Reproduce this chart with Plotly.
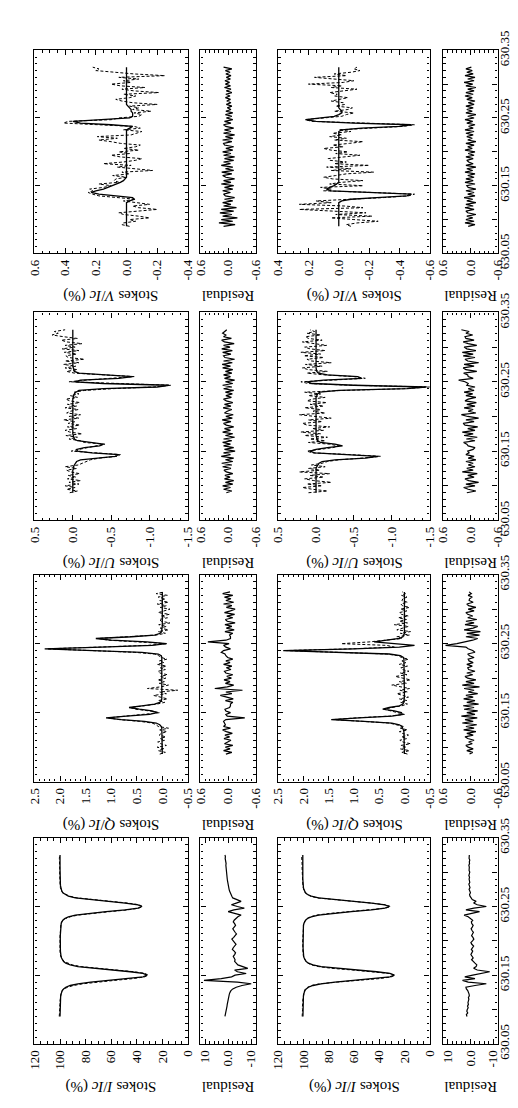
import plotly.graph_objects as go

# ---------------- data (wavelength grid, nm) ----------------
WL = [
    630.0900, 630.0925, 630.0950, 630.0975, 630.1000, 630.1025, 630.1050, 630.1075, 630.1100, 630.1125,
    630.1150, 630.1175, 630.1200, 630.1225, 630.1250, 630.1275, 630.1300, 630.1325, 630.1350, 630.1375,
    630.1400, 630.1425, 630.1450, 630.1475, 630.1500, 630.1525, 630.1550, 630.1575, 630.1600, 630.1625,
    630.1650, 630.1675, 630.1700, 630.1725, 630.1750, 630.1775, 630.1800, 630.1825, 630.1850, 630.1875,
    630.1900, 630.1925, 630.1950, 630.1975, 630.2000, 630.2025, 630.2050, 630.2075, 630.2100, 630.2125,
    630.2150, 630.2175, 630.2200, 630.2225, 630.2250, 630.2275, 630.2300, 630.2325, 630.2350, 630.2375,
    630.2400, 630.2425, 630.2450, 630.2475, 630.2500, 630.2525, 630.2550, 630.2575, 630.2600, 630.2625,
    630.2650, 630.2675, 630.2700, 630.2725, 630.2750, 630.2775, 630.2800, 630.2825, 630.2850, 630.2875,
    630.2900, 630.2925, 630.2950, 630.2975, 630.3000, 630.3025, 630.3050, 630.3075, 630.3100, 630.3125,
    630.3150, 630.3175, 630.3200, 630.3225, 630.3250,
]

# ---- Stokes I (%) ----
I_obs1 = [
    100.6, 100.4, 100.5, 100.3, 100.4, 100.2, 100.3, 100.1, 100.2, 100.0,
    100.1, 99.9, 99.8, 99.6, 99.0, 98.5, 97.0, 94.0, 89.5, 82.0,
    71.0, 57.0, 43.0, 34.0, 31.0, 33.5, 42.0, 57.0, 72.0, 83.5,
    90.5, 94.5, 96.8, 98.0, 98.9, 99.4, 99.8, 100.0, 100.1, 100.0,
    100.1, 100.0, 100.2, 100.1, 100.0, 100.1, 100.0, 99.9, 100.0, 99.9,
    99.9, 99.8, 99.8, 99.7, 99.3, 98.8, 97.6, 95.6, 92.0, 86.0,
    75.5, 61.0, 47.5, 38.5, 35.5, 38.0, 47.0, 61.5, 75.5, 86.5,
    92.5, 96.0, 97.9, 98.8, 99.4, 99.7, 99.9, 100.0, 100.1, 100.0,
    100.1, 100.2, 100.1, 100.2, 100.3, 100.2, 100.3, 100.2, 100.3, 100.4,
    100.3, 100.4, 100.5, 100.4, 100.5,
]
I_fit1 = [
    100.0, 100.0, 99.9, 99.9, 99.9, 99.8, 99.8, 99.8, 99.7, 99.7,
    99.7, 99.6, 99.5, 99.2, 98.8, 98.2, 97.2, 95.5, 92.0, 86.0,
    76.0, 61.0, 45.0, 35.0, 32.0, 35.0, 45.0, 61.0, 76.0, 86.0,
    92.0, 95.5, 97.2, 98.2, 98.8, 99.2, 99.5, 99.6, 99.7, 99.7,
    99.8, 99.8, 99.8, 99.8, 99.8, 99.8, 99.8, 99.8, 99.7, 99.7,
    99.7, 99.6, 99.6, 99.4, 99.1, 98.6, 97.8, 96.3, 93.5, 88.0,
    78.0, 64.0, 49.0, 39.0, 36.0, 39.0, 49.0, 64.0, 78.0, 88.0,
    93.5, 96.3, 97.8, 98.6, 99.1, 99.4, 99.6, 99.7, 99.8, 99.8,
    99.9, 99.9, 99.9, 99.9, 100.0, 100.0, 100.0, 100.0, 100.0, 100.0,
    100.0, 100.0, 100.0, 100.0, 100.0,
]
I_res1 = [
    1.4, 1.2, 1.0, 0.8, 0.7, 0.6, 0.5, 0.4, 0.3, 0.2,
    0.1, 0.0, -0.3, -0.5, -0.8, -1.2, -2.0, -3.5, -6.0, -10.0,
    -4.0, 10.5, 3.0, -1.5, -3.0, -7.8, -4.0, -2.8, -8.5, -6.0,
    -4.2, -3.5, -2.8, -3.0, -2.5, -2.2, -2.8, -3.2, -2.6, -1.8,
    -2.2, -3.0, -3.4, -2.8, -2.0, -1.6, -2.4, -3.0, -3.6, -3.0,
    -2.4, -2.0, -2.6, -3.2, -2.8, -2.2, -2.6, -3.4, -4.2, -5.6,
    -3.0, 0.0, -2.5, -7.0, -4.0, -1.4, -3.5, -5.6, -3.8, -2.0,
    -1.6, -1.2, -0.8, -0.6, -0.4, -0.2, 0.0, 0.1, 0.2, 0.3,
    0.4, 0.5, 0.4, 0.6, 0.7, 0.6, 0.8, 0.9, 1.0, 0.9,
    1.1, 1.2, 1.3, 1.2, 1.4,
]
I_obs2 = [
    101.0, 100.8, 101.1, 100.9, 100.7, 100.9, 100.6, 100.8, 100.5, 100.6,
    100.4, 100.3, 100.1, 99.9, 99.6, 99.2, 98.4, 96.6, 93.5, 87.0,
    73.0, 56.0, 40.0, 30.5, 27.5, 32.0, 44.0, 61.0, 77.5, 88.0,
    93.5, 96.5, 98.0, 99.0, 99.6, 100.0, 100.2, 100.4, 100.3, 100.5,
    100.4, 100.6, 100.5, 100.4, 100.6, 100.5, 100.4, 100.6, 100.5, 100.3,
    100.4, 100.3, 100.2, 100.1, 99.8, 99.3, 98.5, 97.2, 94.5, 89.5,
    79.0, 63.5, 46.5, 35.0, 31.0, 35.0, 46.5, 63.0, 78.5, 89.0,
    94.5, 97.2, 98.6, 99.4, 99.9, 100.2, 100.4, 100.5, 100.6, 100.7,
    100.6, 100.8, 100.7, 100.9, 100.8, 101.0, 100.9, 101.1, 101.0, 101.2,
    101.1, 101.3, 101.2, 101.4, 101.3,
]
I_fit2 = [
    100.4, 100.4, 100.4, 100.4, 100.4, 100.3, 100.3, 100.3, 100.3, 100.2,
    100.2, 100.1, 100.0, 99.8, 99.4, 98.8, 97.8, 96.0, 92.5, 86.0,
    75.0, 59.0, 42.0, 31.5, 28.0, 31.5, 42.0, 59.0, 75.0, 86.0,
    92.5, 96.0, 97.8, 98.8, 99.4, 99.8, 100.0, 100.1, 100.2, 100.2,
    100.3, 100.3, 100.3, 100.3, 100.3, 100.3, 100.3, 100.3, 100.2, 100.2,
    100.2, 100.2, 100.2, 100.0, 99.7, 99.2, 98.3, 96.8, 93.8, 88.0,
    77.0, 62.0, 46.0, 35.5, 32.0, 35.5, 46.0, 62.0, 77.0, 88.0,
    93.8, 96.8, 98.3, 99.2, 99.7, 100.0, 100.2, 100.3, 100.4, 100.4,
    100.5, 100.5, 100.5, 100.5, 100.5, 100.5, 100.5, 100.5, 100.5, 100.5,
    100.5, 100.5, 100.5, 100.5, 100.5,
]
I_res2 = [
    1.5, 1.8, 1.2, 1.6, 1.4, 1.0, 1.3, 0.9, 1.1, 0.8,
    0.7, 0.9, 0.5, 0.6, 0.8, 1.2, 1.8, 2.0, -2.0, -7.0,
    1.0, 3.5, -2.0, 2.5, -1.0, -5.0, -8.5, -3.0, -1.4, -2.5,
    -2.8, -2.0, -1.0, -0.5, -1.2, -0.8, -0.2, -0.6, -1.0, -0.4,
    -0.8, -1.4, -0.6, -0.2, -0.9, -1.5, -1.1, -0.5, -0.9, -1.3,
    -0.7, -0.3, -0.8, -1.2, -0.6, -0.4, -1.0, -0.2, 1.0, 2.8,
    -1.0, -4.0, 2.0, -1.5, -7.0, -3.0, -1.4, -2.5, -0.8, -0.2,
    0.2, 0.4, 0.0, 0.3, 0.6, 0.2, 0.4, 0.7, 0.3, 0.5,
    0.6, 0.4, 0.7, 0.5, 0.3, 0.6, 0.4, 0.5, 0.7, 0.4,
    0.5, 0.3, 0.6, 0.4, 0.5,
]

# ---- Stokes Q (%) ----
Q_obs1 = [
    0.05, -0.06, 0.08, -0.04, 0.10, -0.08, 0.03, 0.09, -0.05, 0.04,
    -0.07, 0.06, 0.02, -0.09, 0.05, -0.12, 0.08, 0.12, 0.20, 0.45,
    0.85, 1.05, 0.72, 0.30, 0.05, 0.25, 0.52, 0.62, 0.35, 0.10,
    -0.05, 0.08, -0.10, 0.04, 0.17, -0.08, 0.05, -0.30, 0.29, 0.02,
    -0.12, 0.06, -0.04, 0.09, -0.07, 0.03, -0.10, 0.05, 0.08, -0.06,
    0.04, -0.08, 0.10, -0.03, 0.06, -0.09, 0.02, 0.07, 0.15, 0.55,
    1.60, 2.25, 1.25, 0.30, -0.10, 0.40, 1.05, 1.25, 0.55, 0.12,
    -0.06, 0.08, -0.12, 0.04, -0.08, 0.07, -0.15, 0.02, 0.06, -0.10,
    0.03, -0.14, 0.08, -0.05, -0.15, 0.04, -0.08, 0.10, -0.12, 0.05,
    -0.06, 0.08, -0.10, 0.12, -0.04,
]
Q_fit1 = [
    0.00, 0.00, 0.01, 0.00, 0.00, 0.01, 0.00, 0.00, 0.01, 0.00,
    0.00, 0.01, 0.01, 0.00, 0.01, 0.01, 0.02, 0.05, 0.12, 0.35,
    0.80, 1.10, 0.70, 0.25, 0.10, 0.20, 0.45, 0.65, 0.40, 0.15,
    0.05, 0.02, 0.01, 0.01, 0.00, 0.00, 0.00, 0.01, 0.00, 0.00,
    0.00, 0.00, 0.00, 0.00, 0.00, 0.00, 0.00, 0.00, 0.00, 0.00,
    0.00, 0.00, 0.00, 0.01, 0.01, 0.01, 0.01, 0.02, 0.08, 0.40,
    1.50, 2.30, 1.20, 0.20, -0.08, 0.30, 1.00, 1.30, 0.60, 0.15,
    0.04, 0.01, 0.01, 0.00, 0.00, 0.00, 0.00, 0.00, 0.00, 0.00,
    0.00, 0.00, 0.00, 0.00, 0.00, 0.00, 0.00, 0.00, 0.00, 0.00,
    0.00, 0.00, 0.00, 0.00, 0.00,
]
Q_res1 = [
    0.05, -0.08, 0.10, -0.04, 0.06, -0.10, 0.08, 0.02, -0.06, 0.09,
    -0.03, 0.07, -0.09, 0.04, 0.12, -0.05, 0.10, 0.06, 0.08, 0.10,
    0.05, -0.36, 0.02, 0.05, -0.05, 0.05, 0.07, -0.03, -0.05, -0.05,
    -0.10, 0.06, -0.11, 0.03, 0.17, -0.08, 0.05, -0.31, 0.29, 0.02,
    -0.12, 0.06, -0.04, 0.09, -0.07, 0.03, -0.10, 0.05, 0.08, -0.06,
    0.04, -0.08, 0.10, -0.04, 0.05, -0.10, 0.01, 0.05, 0.07, 0.15,
    0.10, -0.05, 0.05, 0.10, -0.02, 0.44, 0.05, -0.05, -0.05, -0.03,
    -0.10, 0.07, -0.13, 0.04, -0.08, 0.07, -0.15, 0.02, 0.06, -0.10,
    0.03, -0.14, 0.08, -0.05, -0.15, 0.04, -0.08, 0.10, -0.12, 0.05,
    -0.06, 0.08, -0.10, 0.12, -0.04,
]
Q_obs2 = [
    -0.06, 0.05, -0.10, 0.08, -0.04, 0.07, -0.12, 0.03, 0.09, -0.05,
    0.06, -0.08, 0.04, 0.10, -0.06, 0.08, 0.02, 0.15, 0.30, 0.85,
    1.40, 0.95, 0.30, 0.00, 0.12, 0.28, 0.40, 0.25, 0.05, -0.06,
    0.08, -0.05, 0.10, -0.08, 0.04, 0.15, -0.06, 0.09, -0.10, 0.05,
    0.25, -0.04, 0.10, -0.12, 0.06, 0.18, -0.05, 0.08, -0.09, 0.04,
    0.07, -0.06, 0.10, -0.03, 0.05, -0.08, 0.06, 0.12, 0.35, 1.50,
    2.35, 1.05, 0.20, 0.35, 1.25, 0.70, 0.30, 0.05, 0.15, -0.10,
    0.08, -0.12, 0.15, 0.05, -0.08, 0.20, -0.06, 0.10, -0.04, 0.12,
    -0.08, 0.06, 0.10, -0.05, 0.08, -0.10, 0.04, 0.07, -0.06, 0.05,
    0.03, -0.05, 0.06, -0.02, 0.04,
]
Q_fit2 = [
    0.00, 0.00, 0.00, 0.01, 0.00, 0.00, 0.01, 0.00, 0.00, 0.01,
    0.00, 0.01, 0.01, 0.01, 0.02, 0.03, 0.05, 0.10, 0.25, 0.80,
    1.45, 0.90, 0.25, 0.04, 0.06, 0.20, 0.43, 0.30, 0.10, 0.03,
    0.01, 0.01, 0.00, 0.00, 0.00, 0.00, 0.00, 0.00, 0.00, 0.00,
    0.00, 0.00, 0.00, 0.00, 0.00, 0.00, 0.00, 0.00, 0.00, 0.00,
    0.00, 0.00, 0.00, 0.00, 0.01, 0.01, 0.02, 0.08, 0.30, 1.60,
    2.40, 1.00, 0.10, -0.20, 0.20, 0.60, 0.35, 0.10, 0.03, 0.01,
    0.00, 0.00, 0.00, 0.00, 0.00, 0.00, 0.00, 0.00, 0.00, 0.00,
    0.00, 0.00, 0.00, 0.00, 0.00, 0.00, 0.00, 0.00, 0.00, 0.00,
    0.00, 0.00, 0.00, 0.00, 0.00,
]
Q_res2 = [
    0.02, -0.05, 0.08, -0.06, 0.05, 0.10, -0.04, 0.04, -0.08, 0.06,
    0.12, -0.06, 0.08, -0.12, 0.15, -0.08, 0.10, -0.14, 0.18, -0.06,
    0.12, -0.15, 0.20, -0.10, 0.08, -0.16, 0.14, -0.08, 0.16, -0.18,
    0.08, -0.10, 0.15, -0.06, 0.10, -0.16, 0.05, -0.08, 0.14, -0.20,
    0.18, -0.08, 0.10, -0.12, 0.06, 0.12, -0.05, 0.08, -0.10, 0.04,
    0.06, -0.04, 0.08, -0.06, 0.03, 0.05, -0.08, 0.02, 0.06, -0.10,
    -0.05, 0.05, 0.10, 0.55, 0.30, 0.10, -0.05, -0.16, 0.10, -0.20,
    0.08, -0.22, 0.14, -0.06, -0.16, 0.12, -0.08, 0.10, -0.14, 0.06,
    -0.05, 0.06, 0.10, -0.08, 0.05, -0.12, 0.04, 0.08, -0.06, 0.03,
    0.02, -0.04, 0.05, -0.02, 0.03,
]

# ---- Stokes U (%) ----
U_obs1 = [
    0.04, -0.06, 0.08, -0.03, 0.10, -0.08, 0.05, -0.10, 0.07, -0.04,
    0.06, -0.09, 0.03, 0.08, -0.05, 0.10, -0.07, -0.12, -0.18, -0.23,
    -0.35, -0.58, -0.62, -0.30, 0.02, -0.08, -0.22, -0.30, -0.42, -0.15,
    -0.10, 0.05, -0.06, 0.09, -0.12, 0.04, 0.10, -0.05, 0.07, -0.09,
    0.06, -0.03, 0.12, -0.08, 0.05, -0.10, 0.08, 0.03, -0.07, 0.10,
    -0.05, 0.07, -0.09, 0.04, 0.09, -0.06, 0.03, -0.08, -0.02, -0.15,
    -0.50, -1.05, -1.28, -0.50, 0.05, -0.18, -0.55, -0.80, -0.40, -0.02,
    0.08, -0.06, 0.10, -0.04, 0.12, -0.08, 0.10, -0.15, 0.06, 0.09,
    -0.05, 0.11, -0.08, 0.14, -0.03, 0.10, -0.12, 0.08, 0.15, -0.06,
    0.12, 0.27, 0.19, 0.24, 0.10,
]
U_fit1 = [
    0.00, 0.00, 0.00, 0.00, 0.00, 0.00, 0.00, 0.00, 0.00, 0.00,
    0.00, 0.00, 0.00, 0.00, -0.01, -0.01, -0.02, -0.03, -0.05, -0.10,
    -0.30, -0.55, -0.60, -0.25, -0.06, -0.05, -0.15, -0.35, -0.40, -0.20,
    -0.06, -0.02, -0.01, 0.00, 0.00, 0.00, 0.00, 0.00, 0.00, 0.00,
    0.00, 0.00, 0.00, 0.00, 0.00, 0.00, 0.00, 0.00, 0.00, 0.00,
    0.00, 0.00, 0.00, 0.00, 0.00, -0.01, -0.01, -0.02, -0.04, -0.08,
    -0.40, -1.10, -1.25, -0.40, -0.02, -0.10, -0.60, -0.78, -0.35, -0.08,
    -0.02, -0.01, 0.00, 0.00, 0.00, 0.00, 0.00, 0.00, 0.00, 0.00,
    0.00, 0.00, 0.00, 0.00, 0.00, 0.00, 0.00, 0.00, 0.00, 0.00,
    0.00, 0.00, 0.00, 0.00, 0.00,
]
U_res1 = [
    0.04, -0.08, 0.10, -0.05, 0.12, -0.10, 0.06, -0.12, 0.08, -0.04,
    0.07, -0.10, 0.04, 0.09, -0.06, 0.12, -0.08, 0.14, -0.10, 0.06,
    -0.12, 0.15, -0.05, 0.10, -0.15, 0.08, -0.12, 0.10, -0.05, 0.12,
    -0.08, 0.10, -0.14, 0.06, -0.10, 0.12, -0.05, 0.08, -0.12, 0.04,
    0.10, -0.06, 0.13, -0.09, 0.05, -0.11, 0.08, 0.02, -0.08, 0.11,
    -0.06, 0.08, -0.10, 0.04, 0.10, -0.07, 0.05, -0.09, 0.06, -0.12,
    0.10, -0.08, 0.12, -0.10, 0.06, -0.14, 0.08, -0.05, 0.10, -0.08,
    0.06, -0.10, 0.12, -0.05, 0.13, -0.09, 0.10, -0.14, 0.07, 0.10,
    -0.06, 0.12, -0.09, 0.14, -0.04, 0.10, -0.13, 0.08, 0.14, -0.07,
    0.10, 0.05, 0.12, 0.08, 0.03,
]
U_obs2 = [
    0.10, -0.15, 0.05, 0.18, -0.08, 0.12, -0.20, 0.03, 0.15, -0.10,
    0.08, -0.18, 0.22, -0.05, 0.10, -0.12, 0.06, -0.08, -0.15, -0.30,
    -0.62, -0.85, -0.45, 0.05, 0.12, -0.05, -0.22, -0.30, -0.18, 0.10,
    -0.12, 0.08, -0.15, 0.15, -0.06, 0.20, -0.10, 0.05, -0.18, 0.12,
    0.18, -0.08, 0.10, -0.20, 0.06, 0.22, -0.12, 0.04, -0.06, 0.15,
    -0.10, 0.08, -0.14, 0.12, 0.05, -0.12, 0.10, -0.06, 0.15, -0.35,
    -1.15, -1.50, -0.45, 0.10, 0.20, -0.18, -0.65, -0.50, -0.10, 0.12,
    -0.15, 0.10, 0.18, -0.08, 0.14, -0.20, 0.06, 0.12, -0.10, 0.16,
    -0.06, 0.20, -0.12, 0.08, 0.15, -0.14, 0.05, 0.18, -0.08, 0.10,
    0.14, -0.06, 0.12, 0.02, 0.08,
]
U_fit2 = [
    0.00, 0.00, 0.00, 0.00, 0.00, 0.00, 0.00, 0.00, 0.00, 0.00,
    0.00, 0.00, 0.00, 0.00, 0.00, -0.01, -0.02, -0.04, -0.08, -0.25,
    -0.65, -0.82, -0.40, 0.02, 0.08, 0.00, -0.15, -0.35, -0.25, -0.06,
    -0.02, -0.01, 0.00, 0.00, 0.00, 0.00, 0.00, 0.00, 0.00, 0.00,
    0.00, 0.00, 0.00, 0.00, 0.00, 0.00, 0.00, 0.00, 0.00, 0.00,
    0.00, 0.00, 0.00, 0.00, 0.00, 0.00, -0.01, -0.02, -0.05, -0.30,
    -1.20, -1.45, -0.50, 0.05, 0.12, -0.10, -0.60, -0.55, -0.15, -0.03,
    -0.01, 0.00, 0.00, 0.00, 0.00, 0.00, 0.00, 0.00, 0.00, 0.00,
    0.00, 0.00, 0.00, 0.00, 0.00, 0.00, 0.00, 0.00, 0.00, 0.00,
    0.00, 0.00, 0.00, 0.00, 0.00,
]
U_res2 = [
    0.08, -0.12, 0.05, 0.15, -0.10, 0.10, -0.18, 0.04, 0.12, -0.08,
    0.06, -0.15, 0.18, -0.06, 0.08, -0.10, 0.05, -0.06, 0.10, -0.12,
    0.05, -0.08, 0.10, 0.03, 0.06, -0.06, -0.10, 0.05, 0.08, 0.15,
    -0.10, 0.09, -0.15, 0.14, -0.06, 0.18, -0.10, 0.06, -0.16, 0.12,
    0.16, -0.08, 0.10, -0.18, 0.06, 0.20, -0.12, 0.05, -0.06, 0.14,
    -0.10, 0.08, -0.13, 0.12, 0.05, -0.12, 0.10, -0.05, 0.14, -0.08,
    0.05, -0.10, 0.08, 0.05, 0.12, 0.26, -0.06, 0.05, 0.06, 0.15,
    -0.14, 0.10, 0.16, -0.08, 0.14, -0.18, 0.06, 0.12, -0.10, 0.16,
    -0.06, 0.18, -0.12, 0.08, 0.14, -0.14, 0.05, 0.16, -0.08, 0.10,
    0.12, -0.05, 0.10, 0.03, 0.20,
]

# ---- Stokes V (%) ----
V_obs1 = [
    -0.02, 0.03, 0.02, -0.06, -0.02, -0.15, -0.08, 0.02, 0.05, -0.10,
    -0.20, -0.08, -0.04, -0.15, -0.05, 0.02, -0.06, 0.05, 0.18, 0.22,
    0.25, 0.22, 0.24, 0.15, 0.10, 0.18, 0.05, 0.08, 0.07, 0.00,
    0.09, -0.02, 0.03, -0.17, -0.05, 0.06, -0.03, 0.15, 0.02, -0.06,
    -0.10, 0.04, 0.10, -0.02, 0.05, -0.08, 0.02, -0.06, -0.09, 0.04,
    0.10, 0.18, 0.06, 0.19, -0.03, -0.06, -0.10, 0.02, -0.09, -0.05,
    0.15, 0.41, 0.38, 0.10, 0.05, -0.08, -0.10, -0.05, -0.16, -0.04,
    -0.08, -0.02, -0.20, -0.04, 0.03, 0.07, -0.02, -0.06, 0.02, -0.21,
    -0.05, 0.03, -0.12, 0.04, 0.10, -0.03, 0.02, -0.08, 0.05, -0.25,
    -0.05, 0.06, 0.20, 0.18, 0.22,
]
V_fit1 = [
    0.00, 0.00, 0.00, 0.00, 0.00, 0.00, 0.00, 0.00, 0.00, 0.00,
    0.00, 0.00, 0.00, 0.00, 0.00, -0.02, -0.05, -0.04, 0.05, 0.18,
    0.23, 0.20, 0.15, 0.12, 0.09, 0.06, 0.04, 0.02, 0.01, 0.00,
    0.00, 0.00, 0.00, 0.00, 0.00, 0.00, 0.00, 0.00, 0.00, 0.00,
    0.00, 0.00, 0.00, 0.00, 0.00, 0.00, 0.00, 0.00, 0.00, 0.00,
    0.00, 0.00, 0.00, 0.00, 0.00, 0.00, 0.00, 0.00, -0.02, -0.04,
    0.10, 0.30, 0.35, 0.15, -0.02, -0.04, -0.04, -0.04, -0.03, -0.03,
    -0.02, -0.01, 0.00, 0.00, 0.00, 0.00, 0.00, 0.00, 0.00, 0.00,
    0.00, 0.00, 0.00, 0.00, 0.00, 0.00, 0.00, 0.00, 0.00, 0.00,
    0.00, 0.00, 0.00, 0.00, 0.00,
]
V_res1 = [
    0.10, -0.15, 0.20, -0.10, 0.15, -0.20, 0.12, -0.08, 0.18, -0.12,
    0.15, -0.18, 0.10, -0.06, 0.12, -0.10, 0.08, -0.14, 0.06, 0.10,
    -0.05, 0.12, -0.10, 0.08, -0.12, 0.15, -0.06, 0.10, -0.14, 0.05,
    0.12, -0.08, 0.14, -0.12, 0.06, -0.10, 0.15, -0.05, 0.10, -0.12,
    0.08, -0.14, 0.10, -0.06, 0.12, -0.10, 0.05, -0.12, 0.08, 0.10,
    -0.08, 0.12, -0.10, 0.06, -0.14, 0.10, -0.06, 0.08, -0.12, 0.05,
    0.10, -0.06, 0.08, -0.10, 0.04, -0.08, 0.06, -0.10, 0.05, -0.06,
    0.02, -0.08, 0.04, -0.06, 0.03, -0.05, 0.06, -0.04, 0.05, -0.08,
    0.04, -0.06, 0.08, -0.05, 0.06, -0.03, 0.07, -0.05, 0.04, -0.06,
    0.05, -0.04, 0.06, -0.08, 0.10,
]
V_obs2 = [
    -0.08, -0.05, -0.12, -0.26, -0.10, 0.05, -0.22, 0.02, -0.18, 0.06,
    0.26, -0.16, -0.04, 0.26, 0.05, 0.15, -0.10, -0.30, -0.46, -0.50,
    -0.22, 0.10, 0.05, 0.12, -0.16, 0.06, -0.02, -0.16, 0.04, 0.10,
    0.02, -0.05, -0.23, 0.05, -0.08, 0.08, -0.20, 0.03, -0.05, 0.06,
    0.07, -0.04, -0.14, 0.02, -0.06, 0.05, 0.10, -0.03, 0.04, -0.07,
    -0.16, 0.03, -0.05, 0.06, -0.02, 0.04, -0.08, 0.00, -0.20, -0.42,
    -0.50, -0.12, 0.18, 0.22, 0.08, -0.02, -0.05, -0.10, 0.03, -0.06,
    -0.09, 0.02, -0.04, -0.03, 0.05, -0.02, -0.06, 0.03, 0.01, 0.06,
    -0.04, -0.12, 0.05, -0.02, 0.20, -0.03, -0.10, 0.04, 0.16, -0.05,
    0.03, -0.08, -0.14, -0.10, -0.12,
]
V_fit2 = [
    0.00, 0.00, 0.00, 0.00, 0.00, 0.00, 0.00, 0.00, 0.00, 0.00,
    0.00, 0.00, 0.00, 0.00, 0.00, -0.02, -0.08, -0.25, -0.45, -0.48,
    -0.20, 0.05, 0.08, 0.06, 0.03, 0.01, 0.00, 0.00, 0.00, 0.00,
    0.00, 0.00, 0.00, 0.00, 0.00, 0.00, 0.00, 0.00, 0.00, 0.00,
    0.00, 0.00, 0.00, 0.00, 0.00, 0.00, 0.00, 0.00, 0.00, 0.00,
    0.00, 0.00, 0.00, 0.00, 0.00, 0.00, 0.00, -0.02, -0.15, -0.40,
    -0.48, -0.10, 0.15, 0.22, 0.10, 0.03, 0.00, -0.02, -0.02, -0.01,
    0.00, 0.00, 0.00, 0.00, 0.00, 0.00, 0.00, 0.00, 0.00, 0.00,
    0.00, 0.00, 0.00, 0.00, 0.00, 0.00, 0.00, 0.00, 0.00, 0.00,
    0.00, 0.00, 0.00, 0.00, 0.00,
]
V_res2 = [
    0.05, -0.10, 0.12, -0.08, 0.10, -0.05, 0.08, -0.12, 0.06, 0.10,
    -0.08, 0.12, -0.06, 0.10, -0.12, 0.08, -0.05, 0.14, -0.10, 0.06,
    -0.08, 0.10, -0.12, 0.05, 0.08, -0.10, 0.12, -0.06, 0.10, -0.08,
    0.06, -0.10, 0.12, -0.05, 0.08, -0.12, 0.10, -0.06, 0.04, 0.08,
    -0.06, 0.10, -0.08, 0.05, -0.10, 0.12, -0.04, 0.06, -0.08, 0.10,
    -0.12, 0.06, -0.04, 0.08, -0.06, 0.10, -0.08, 0.12, -0.06, 0.04,
    -0.10, 0.08, -0.05, 0.12, -0.08, 0.06, -0.12, 0.10, -0.04, 0.08,
    -0.06, 0.10, -0.08, 0.05, -0.10, 0.08, -0.04, 0.12, -0.06, 0.10,
    -0.08, 0.06, -0.12, 0.10, -0.05, 0.14, -0.08, 0.06, -0.10, 0.12,
    -0.06, 0.08, -0.04, 0.10, -0.02,
]

# ---- axis ticks / labels ----
WL_TICKS = [630.05, 630.10, 630.15, 630.20, 630.25, 630.30, 630.35]
WL_TEXT = ["630.05", "", "630.15", "", "630.25", "", "630.35"]

I_TICKS = [120, 100, 80, 60, 40, 20, 0]
I_TEXT = ["120", "100", "80", "60", "40", "20", "0"]
Q_TICKS = [2.5, 2.0, 1.5, 1.0, 0.5, 0.0, -0.5]
Q_TEXT = ["2.5", "2.0", "1.5", "1.0", "0.5", "0.0", "-0.5"]
U_TICKS = [0.5, 0.0, -0.5, -1.0, -1.5]
U_TEXT = ["0.5", "0.0", "-0.5", "-1.0", "-1.5"]
V1_TICKS = [0.6, 0.4, 0.2, 0.0, -0.2, -0.4]
V1_TEXT = ["0.6", "0.4", "0.2", "0.0", "-0.2", "-0.4"]
V2_TICKS = [0.4, 0.2, 0.0, -0.2, -0.4, -0.6]
V2_TEXT = ["0.4", "0.2", "0.0", "-0.2", "-0.4", "-0.6"]
RI_TICKS = [10, 0, -10]
RI_TEXT = ["10", "0.0", "-10"]
R_TICKS = [0.6, 0.0, -0.6]
R_TEXT = ["0.6", "0.0", "-0.6"]

TITLES = {
    "I": "Stokes <i>I</i>/<i>Ic</i> (%)",
    "Q": "Stokes <i>Q</i>/<i>Ic</i> (%)",
    "U": "Stokes <i>U</i>/<i>Ic</i> (%)",
    "V": "Stokes <i>V</i>/<i>Ic</i> (%)",
}

for arr in [I_obs1, I_fit1, I_res1, I_obs2, I_fit2, I_res2,
            Q_obs1, Q_fit1, Q_res1, Q_obs2, Q_fit2, Q_res2,
            U_obs1, U_fit1, U_res1, U_obs2, U_fit2, U_res2,
            V_obs1, V_fit1, V_res1, V_obs2, V_fit2, V_res2]:
    assert len(arr) == len(WL), len(arr)

# ---------------- layout geometry (pixels) ----------------
W, H = 518, 1108
COLS = [(19, 177), (190, 247), (270, 426), (440, 496)]
BANDS = {"V": (23, 233), "U": (294, 509), "Q": (565, 779), "I": (837, 1050)}
FONT = "Liberation Serif, Times New Roman, serif"

OBS = dict(color="black", width=1.0, dash="3px,2px")
FIT = dict(color="black", width=1.3)
RES = dict(color="black", width=1.2)

PANELS = {
    "I": [([I_obs1, I_fit1], [120, 0], I_TICKS, I_TEXT, 5, I_res1, [12, -12], RI_TICKS, RI_TEXT, 2),
          ([I_obs2, I_fit2], [120, 0], I_TICKS, I_TEXT, 5, I_res2, [12, -12], RI_TICKS, RI_TEXT, 2)],
    "Q": [([Q_obs1, Q_fit1], [2.5, -0.5], Q_TICKS, Q_TEXT, 0.1, Q_res1, [0.6, -0.6], R_TICKS, R_TEXT, 0.1),
          ([Q_obs2, Q_fit2], [2.5, -0.5], Q_TICKS, Q_TEXT, 0.1, Q_res2, [0.6, -0.6], R_TICKS, R_TEXT, 0.1)],
    "U": [([U_obs1, U_fit1], [0.5, -1.5], U_TICKS, U_TEXT, 0.1, U_res1, [0.6, -0.6], R_TICKS, R_TEXT, 0.1),
          ([U_obs2, U_fit2], [0.5, -1.5], U_TICKS, U_TEXT, 0.1, U_res2, [0.6, -0.6], R_TICKS, R_TEXT, 0.1)],
    "V": [([V_obs1, V_fit1], [0.6, -0.4], V1_TICKS, V1_TEXT, 0.05, V_res1, [0.6, -0.6], R_TICKS, R_TEXT, 0.1),
          ([V_obs2, V_fit2], [0.4, -0.6], V2_TICKS, V2_TEXT, 0.05, V_res2, [0.6, -0.6], R_TICKS, R_TEXT, 0.1)],
}

fig = go.Figure()
layout = {}
annotations = []
counter = [0]

AX_COMMON = dict(showline=True, linecolor="black", linewidth=1.4, mirror="allticks",
                 ticks="inside", ticklen=5, tickwidth=1, tickcolor="black",
                 showgrid=False, zeroline=False, fixedrange=True)


def add_panel(col, band, series, styles, xr, tv, tt, minor_dt, wl_labels):
    counter[0] += 1
    n = counter[0]
    xa = "x" if n == 1 else f"x{n}"
    ya = "y" if n == 1 else f"y{n}"
    for vals, st in zip(series, styles):
        fig.add_trace(go.Scatter(x=vals, y=WL, xaxis=xa, yaxis=ya, mode="lines",
                                 line=st, showlegend=False, hoverinfo="skip"))
    x0, x1 = col
    y0, y1 = band
    layout["xaxis" if n == 1 else f"xaxis{n}"] = dict(
        domain=[x0 / W, x1 / W], anchor=ya, range=xr,
        tickmode="array", tickvals=tv, ticktext=tt, tickangle=-90,
        tickfont=dict(family=FONT, size=13, color="black"),
        minor=dict(ticks="inside", ticklen=2.5, dtick=minor_dt, tick0=0, tickcolor="black"),
        **AX_COMMON)
    layout["yaxis" if n == 1 else f"yaxis{n}"] = dict(
        domain=[1 - y1 / H, 1 - y0 / H], anchor=xa, range=[630.05, 630.35],
        tickmode="array", tickvals=WL_TICKS, ticktext=WL_TEXT,
        showticklabels=wl_labels, side="right", tickangle=-90,
        ticklabelstandoff=-5,
        tickfont=dict(family=FONT, size=13, color="black"),
        minor=dict(ticks="inside", ticklen=2.5, dtick=0.01, tick0=630.05, tickcolor="black"),
        **AX_COMMON)


for s, (y0, y1) in BANDS.items():
    for k, (mser, mr, mtv, mtt, mdt, rser, rr, rtv, rtt, rdt) in enumerate(PANELS[s]):
        mcol = COLS[2 * k]
        rcol = COLS[2 * k + 1]
        add_panel(mcol, (y0, y1), mser, [OBS, FIT], mr, mtv, mtt, mdt, False)
        add_panel(rcol, (y0, y1), [rser], [RES], rr, rtv, rtt, rdt, k == 1)
        ty = 1 - (y1 + 44) / H
        annotations.append(dict(text=TITLES[s], x=(mcol[0] + mcol[1]) / 2 / W, y=ty,
                                xref="paper", yref="paper", showarrow=False, textangle=180,
                                xanchor="center", yanchor="middle",
                                font=dict(family=FONT, size=15, color="black")))
        annotations.append(dict(text="Residual", x=(rcol[0] + rcol[1]) / 2 / W, y=ty,
                                xref="paper", yref="paper", showarrow=False, textangle=180,
                                xanchor="center", yanchor="middle",
                                font=dict(family=FONT, size=15, color="black")))

fig.update_layout(**layout)
fig.update_layout(width=W, height=H, margin=dict(l=0, r=0, t=0, b=0),
                  paper_bgcolor="white", plot_bgcolor="white",
                  font=dict(family=FONT, color="black"),
                  annotations=annotations)

fig.write_html("out.html")
